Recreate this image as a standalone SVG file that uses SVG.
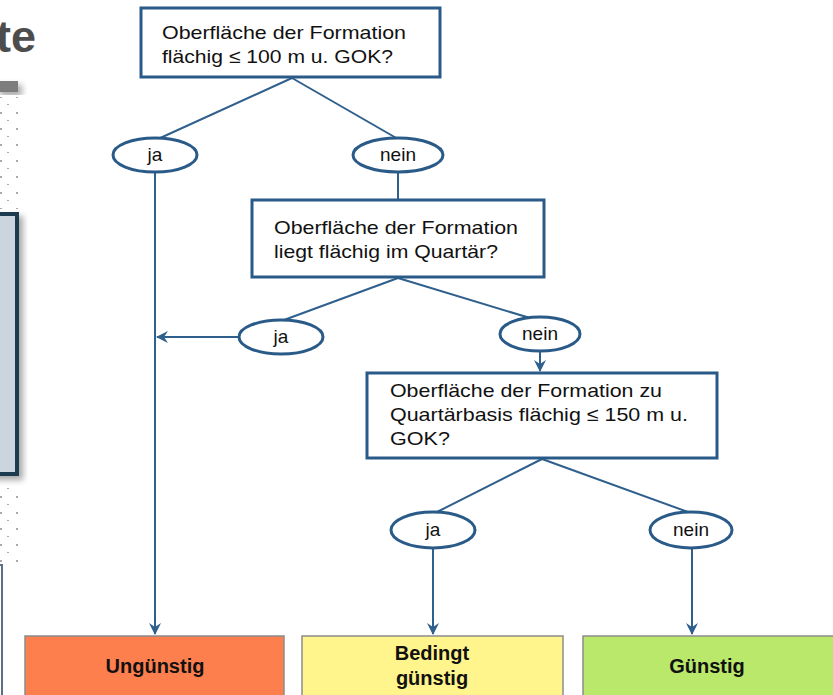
<svg xmlns="http://www.w3.org/2000/svg" width="833" height="695" viewBox="0 0 833 695">
<style>
.q{fill:#fff;stroke:#2a5b88;stroke-width:3}
.e{fill:#fff;stroke:#2a5b88;stroke-width:3}
.t{font-family:"Liberation Sans",Arial,sans-serif;font-size:19px;fill:#111}
.m{text-anchor:middle}
.c{stroke:#2f5f8c;stroke-width:2;fill:none}
.b{font-family:"Liberation Sans",Arial,sans-serif;font-size:20px;font-weight:bold;fill:#111;text-anchor:middle}
.r{stroke:#8c8c8c;stroke-width:1.5}
.dot{fill:#aaa}
</style>
<defs>
<marker id="ah" viewBox="0 0 12 12" refX="11" refY="6" markerWidth="12" markerHeight="12" markerUnits="userSpaceOnUse" orient="auto">
<path d="M0,0 L12,6 L0,12 L4,6 z" fill="#2f5f8c"/>
</marker>
<filter id="sh" x="-20%" y="-20%" width="160%" height="140%">
<feDropShadow dx="4" dy="4" stdDeviation="3" flood-color="#000" flood-opacity="0.35"/>
</filter>
<pattern id="dots" width="16" height="16" patternUnits="userSpaceOnUse">
<rect x="0" y="0" width="2" height="2" class="dot"/>
<rect x="16" y="0" width="2" height="2" class="dot"/>
<rect x="7" y="8" width="2" height="1" class="dot"/>
</pattern>
</defs>
<g id="background-left">
<text x="-4" y="52" font-family="Liberation Sans,Arial,sans-serif" font-size="45" font-weight="bold" fill="#4d4d4d">te</text>
<rect x="-4" y="81" width="22" height="11" fill="#7d7d7d" filter="url(#sh)"/>
<rect x="0" y="97" width="20" height="112" fill="url(#dots)"/>
<rect x="0" y="482" width="20" height="84" fill="url(#dots)"/>
<rect x="-10" y="214" width="27" height="260" fill="#ccd4de" stroke="#1f3a50" stroke-width="4" filter="url(#sh)"/>
<rect x="-10" y="565" width="12" height="140" fill="#fff" stroke="#5b6f86" stroke-width="2"/>
</g>
<g id="connectors">
<line class="c" x1="292" y1="78" x2="158" y2="139"/>
<line class="c" x1="292" y1="78" x2="398" y2="139"/>
<line class="c" x1="155" y1="172" x2="155" y2="634" marker-end="url(#ah)"/>
<line class="c" x1="398" y1="172" x2="398" y2="199"/>
<line class="c" x1="398" y1="278" x2="284" y2="320"/>
<line class="c" x1="398" y1="278" x2="530" y2="318"/>
<line class="c" x1="240" y1="337" x2="157" y2="337" marker-end="url(#ah)"/>
<line class="c" x1="540" y1="351" x2="540" y2="371" marker-end="url(#ah)"/>
<line class="c" x1="542" y1="459" x2="437" y2="512"/>
<line class="c" x1="542" y1="459" x2="688" y2="512"/>
<line class="c" x1="433" y1="548" x2="433" y2="634" marker-end="url(#ah)"/>
<line class="c" x1="692" y1="548" x2="692" y2="634" marker-end="url(#ah)"/>
</g>
<g id="q1">
<rect class="q" x="141" y="8" width="299" height="69"/>
<text class="t" x="162" y="39" textLength="244" lengthAdjust="spacingAndGlyphs">Oberfläche der Formation</text>
<text class="t" x="162" y="63" textLength="231" lengthAdjust="spacingAndGlyphs">flächig ≤ 100 m u. GOK?</text>
</g>
<g id="ja1">
<ellipse class="e" cx="155" cy="155" rx="42" ry="17"/>
<text class="t m" x="155" y="161">ja</text>
</g>
<g id="nein1">
<ellipse class="e" cx="398" cy="155" rx="45" ry="17"/>
<text class="t m" x="398" y="161">nein</text>
</g>
<g id="q2">
<rect class="q" x="252" y="200" width="292" height="77"/>
<text class="t" x="274" y="234" textLength="244" lengthAdjust="spacingAndGlyphs">Oberfläche der Formation</text>
<text class="t" x="274" y="258" textLength="224" lengthAdjust="spacingAndGlyphs">liegt flächig im Quartär?</text>
</g>
<g id="ja2">
<ellipse class="e" cx="281" cy="337" rx="42" ry="17"/>
<text class="t m" x="281" y="343">ja</text>
</g>
<g id="nein2">
<ellipse class="e" cx="540" cy="334" rx="40" ry="17"/>
<text class="t m" x="540" y="340">nein</text>
</g>
<g id="q3">
<rect class="q" x="367" y="373" width="350" height="85"/>
<text class="t" x="390" y="397" textLength="272" lengthAdjust="spacingAndGlyphs">Oberfläche der Formation zu</text>
<text class="t" x="390" y="421" textLength="298" lengthAdjust="spacingAndGlyphs">Quartärbasis flächig ≤ 150 m u.</text>
<text class="t" x="390" y="445" textLength="60" lengthAdjust="spacingAndGlyphs">GOK?</text>
</g>
<g id="ja3">
<ellipse class="e" cx="433" cy="530" rx="42" ry="18"/>
<text class="t m" x="433" y="536">ja</text>
</g>
<g id="nein3">
<ellipse class="e" cx="691" cy="530" rx="41" ry="18"/>
<text class="t m" x="691" y="536">nein</text>
</g>
<g id="ungunstig">
<rect class="r" x="25" y="636" width="259" height="65" fill="#fe7f4e"/>
<text class="b" x="155" y="673">Ungünstig</text>
</g>
<g id="bedingt">
<rect class="r" x="302" y="636" width="261" height="65" fill="#fff58c"/>
<text class="b" x="432" y="660">Bedingt</text>
<text class="b" x="432" y="685">günstig</text>
</g>
<g id="gunstig">
<rect class="r" x="583" y="636" width="260" height="65" fill="#b9e86a"/>
<text class="b" x="707" y="673">Günstig</text>
</g>
</svg>
